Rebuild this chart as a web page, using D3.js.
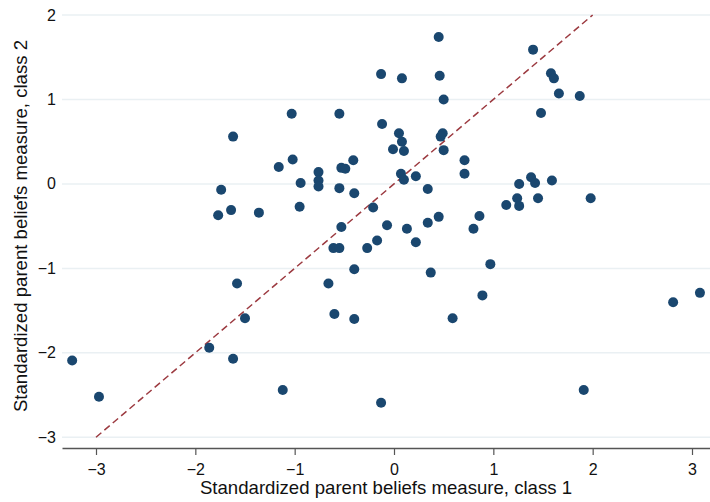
<!DOCTYPE html>
<html>
<head>
<meta charset="utf-8">
<script src="https://cdn.jsdelivr.net/npm/d3@7"></script>
<style>
  html, body { margin: 0; padding: 0; background: #fff; }
  svg { display: block; font-family: "Liberation Sans", Arial, Helvetica, sans-serif; }
</style>
</head>
<body>
<svg id="chart" width="710" height="502"></svg>
<script>
// Data
const class1 = [0.45,-0.13,0.08,0.46,0.50,-1.03,-0.55,-0.12,0.05,0.08,-0.01,0.10,0.49,0.47,0.50,0.71,-1.62,-1.02,-1.16,-0.41,-0.76,-0.53,-0.49,1.40,1.58,1.61,1.66,1.87,1.48,-0.76,-0.76,-0.94,-0.55,-0.40,-1.64,-1.36,-0.95,-0.21,-0.53,-0.07,0.13,-0.17,-0.27,-0.61,-0.55,0.22,0.34,0.45,0.34,0.07,0.10,0.22,0.71,-0.40,0.37,-1.58,-0.66,-1.50,-0.60,-0.40,0.59,1.38,1.42,1.26,1.59,1.24,1.26,1.13,1.45,1.98,0.86,0.80,0.97,0.89,2.81,3.08,-1.74,-1.77,-3.24,-2.97,-1.86,-1.62,-1.12,-0.13,1.91];
const class2 = [1.74,1.30,1.25,1.28,1.00,0.83,0.83,0.71,0.60,0.50,0.41,0.39,0.60,0.56,0.40,0.28,0.56,0.29,0.20,0.28,0.14,0.19,0.18,1.59,1.31,1.25,1.07,1.04,0.84,0.04,-0.03,0.01,-0.05,-0.11,-0.31,-0.34,-0.27,-0.28,-0.51,-0.49,-0.53,-0.67,-0.76,-0.76,-0.76,-0.69,-0.46,-0.39,-0.06,0.12,0.05,0.09,0.12,-1.01,-1.05,-1.18,-1.18,-1.59,-1.54,-1.60,-1.59,0.08,0.01,0.00,0.04,-0.17,-0.26,-0.25,-0.17,-0.17,-0.38,-0.53,-0.95,-1.32,-1.40,-1.29,-0.07,-0.37,-2.09,-2.52,-1.94,-2.07,-2.44,-2.59,-2.44];
const xTicks = [-3,-2,-1,0,1,2,3];
const yTicks = [-3,-2,-1,0,1,2];
const refLine = [-3, 2];
const xTitle = "Standardized parent beliefs measure, class 1";
const yTitle = "Standardized parent beliefs measure, class 2";

const svg = d3.select("#chart");
const plotLeft = 62, plotRight = 710, plotBottom = 448;

const x = d3.scaleLinear().domain([-3, 3]).range([96, 692]);
const xFull = d3.scaleLinear().domain([x.invert(plotLeft), x.invert(plotRight)]).range([plotLeft, plotRight]);
const y = d3.scaleLinear().domain([-3, 2]).range([437.3, 15]);
const fmt = d => d3.format("d")(d).replace("-", "\u2212");

// gridlines
svg.append("g").selectAll("line").data(yTicks).join("line")
  .attr("x1", plotLeft).attr("x2", plotRight)
  .attr("y1", d => y(d)).attr("y2", d => y(d))
  .attr("stroke", "#eaf0f3").attr("stroke-width", 1.5);

// y tick labels
svg.append("g").selectAll("text").data(yTicks).join("text")
  .attr("x", 56).attr("y", d => y(d))
  .attr("text-anchor", "end").attr("dominant-baseline", "central")
  .attr("font-size", 16).attr("fill", "#111")
  .text(fmt);

// x axis
const xAxis = d3.axisBottom(xFull).tickValues(xTicks).tickSize(7).tickSizeOuter(0).tickFormat(fmt);
const gx = svg.append("g").attr("transform", `translate(0,${plotBottom})`).call(xAxis);
gx.select(".domain").attr("stroke", "#555").attr("stroke-width", 1.5);
gx.selectAll(".tick line").attr("stroke", "#555").attr("stroke-width", 1.2);
gx.selectAll(".tick text").attr("font-size", 16).attr("fill", "#111")
  .attr("font-family", "Liberation Sans, Arial, sans-serif").attr("dy", "1.05em");

// reference line y = x
svg.append("line")
  .attr("x1", x(refLine[0])).attr("y1", y(refLine[0]))
  .attr("x2", x(refLine[1])).attr("y2", y(refLine[1]))
  .attr("stroke", "#9c3a40").attr("stroke-width", 1.5)
  .attr("stroke-dasharray", "7,4");

// points
const pts = class1.map((v, i) => [v, class2[i]]);
svg.append("g").selectAll("circle").data(pts).join("circle")
  .attr("cx", d => x(d[0])).attr("cy", d => y(d[1]))
  .attr("r", 5).attr("fill", "#1a476f");

// titles
svg.append("text").attr("x", 386).attr("y", 494)
  .attr("text-anchor", "middle").attr("font-size", 18.6).attr("fill", "#111")
  .text(xTitle);
svg.append("text").attr("transform", "translate(27,226) rotate(-90)")
  .attr("text-anchor", "middle").attr("font-size", 18.6).attr("fill", "#111")
  .text(yTitle);
</script>
</body>
</html>
